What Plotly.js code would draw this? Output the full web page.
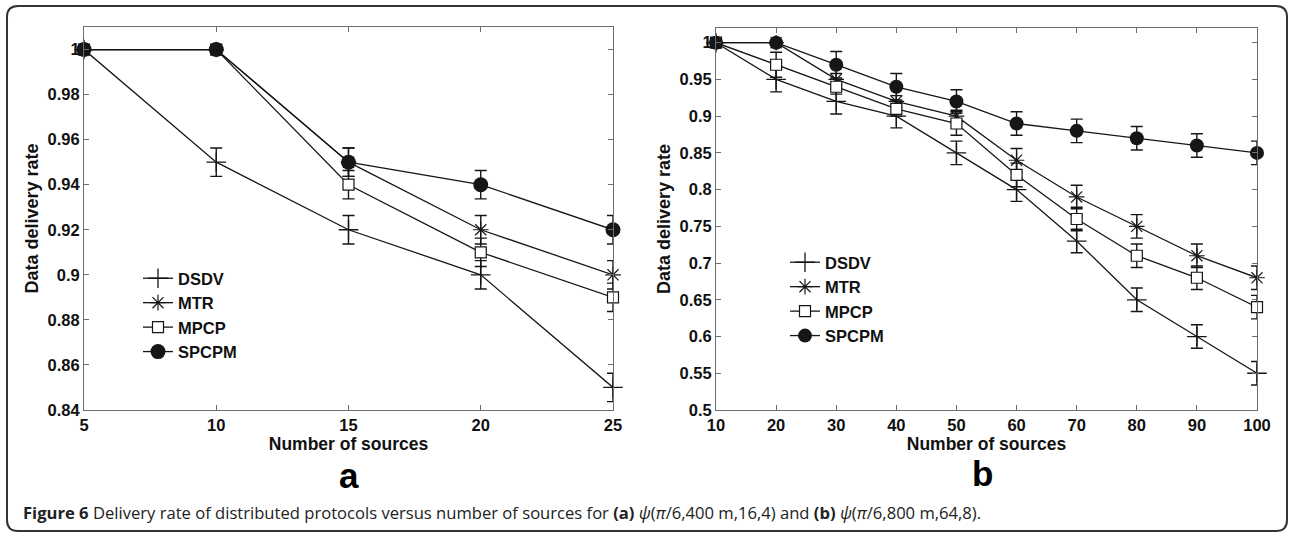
<!DOCTYPE html>
<html>
<head>
<meta charset="utf-8">
<script src="https://cdn.plot.ly/plotly-3.0.1.min.js"></script>
<style>
  html, body { margin: 0; padding: 0; background: #fff; }
  #chart { width: 1290px; height: 535px; }
</style>
</head>
<body>
<div id="chart"></div>
<script>
// ---------- Data: panel (a) ----------
const xA = [5, 10, 15, 20, 25];
const dsdvA = [1.00, 0.95, 0.92, 0.90, 0.85];
const mtrA = [1.00, 1.00, 0.95, 0.92, 0.90];
const mpcpA = [1.00, 1.00, 0.94, 0.91, 0.89];
const spcpmA = [1.00, 1.00, 0.95, 0.94, 0.92];
const errDsdvA = [0, 0.0063, 0.0063, 0.0063, 0.0063];
const errMtrA = [0, 0, 0.0063, 0.0063, 0.0063];
const errMpcpA = [0, 0, 0.0063, 0.0063, 0.0063];
const errSpcpmA = [0, 0, 0.0063, 0.0063, 0.0063];
const xTicksA = [5, 10, 15, 20, 25];
const yTicksA = [0.84, 0.86, 0.88, 0.90, 0.92, 0.94, 0.96, 0.98, 1.00];
const yTickTextA = ['0.84', '0.86', '0.88', '0.9', '0.92', '0.94', '0.96', '0.98', '1'];

// ---------- Data: panel (b) ----------
const xB = [10, 20, 30, 40, 50, 60, 70, 80, 90, 100];
const dsdvB = [1.00, 0.95, 0.92, 0.90, 0.85, 0.80, 0.73, 0.65, 0.60, 0.55];
const mtrB = [1.00, 1.00, 0.95, 0.92, 0.90, 0.84, 0.79, 0.75, 0.71, 0.68];
const mpcpB = [1.00, 0.97, 0.94, 0.91, 0.89, 0.82, 0.76, 0.71, 0.68, 0.64];
const spcpmB = [1.00, 1.00, 0.97, 0.94, 0.92, 0.89, 0.88, 0.87, 0.86, 0.85];
const errDsdvB = [0, 0.017, 0.017, 0.016, 0.016, 0.016, 0.016, 0.016, 0.016, 0.016];
const errMtrB = [0, 0, 0.008, 0.008, 0.008, 0.016, 0.016, 0.016, 0.016, 0.016];
const errMpcpB = [0, 0.017, 0.01, 0.01, 0.016, 0.016, 0.016, 0.016, 0.016, 0.016];
const errSpcpmB = [0, 0, 0.018, 0.018, 0.016, 0.016, 0.016, 0.016, 0.016, 0.016];
const xTicksB = [10, 20, 30, 40, 50, 60, 70, 80, 90, 100];
const yTicksB = [0.5, 0.55, 0.6, 0.65, 0.7, 0.75, 0.8, 0.85, 0.9, 0.95, 1.0];
const yTickTextB = ['0.5', '0.55', '0.6', '0.65', '0.7', '0.75', '0.8', '0.85', '0.9', '0.95', '1'];

const seriesNames = ['DSDV', 'MTR', 'MPCP', 'SPCPM'];

// ---------- Styles ----------
const W = 1290, H = 535;
const px = v => v / W;
const py = v => 1 - v / H;
const INK = '#161616';
const AXIS = '#6e6e6e';
const FONT = 'Arial, Liberation Sans, sans-serif';

function markerFor(name, big) {
  if (name === 'DSDV') return { symbol: 'cross-thin-open', size: 14, color: INK, line: { color: INK, width: 1.3 } };
  if (name === 'MTR') return { symbol: 'asterisk-open', size: 13, color: INK, line: { color: INK, width: 1.2 } };
  if (name === 'MPCP') return { symbol: 'square', size: 11, color: '#ffffff', line: { color: INK, width: 1.2 } };
  return { symbol: 'circle', size: big ? 15 : 14, color: INK, line: { color: INK, width: 0 } };
}

function mk(x, y, err, name, xa, ya, leg, big) {
  return {
    type: 'scatter', mode: 'lines+markers', x: x, y: y, name: name,
    xaxis: xa, yaxis: ya, legend: leg, cliponaxis: false,
    line: { color: INK, width: 1.3 },
    marker: markerFor(name, big),
    error_y: { type: 'data', array: err, visible: true, color: INK, thickness: 1.4, width: 6 }
  };
}

const traces = [
  mk(xA, dsdvA, errDsdvA, seriesNames[0], 'x', 'y', 'legend', true),
  mk(xA, mtrA, errMtrA, seriesNames[1], 'x', 'y', 'legend', true),
  mk(xA, mpcpA, errMpcpA, seriesNames[2], 'x', 'y', 'legend', true),
  mk(xA, spcpmA, errSpcpmA, seriesNames[3], 'x', 'y', 'legend', true),
  mk(xB, dsdvB, errDsdvB, seriesNames[0], 'x2', 'y2', 'legend2', false),
  mk(xB, mtrB, errMtrB, seriesNames[1], 'x2', 'y2', 'legend2', false),
  mk(xB, mpcpB, errMpcpB, seriesNames[2], 'x2', 'y2', 'legend2', false),
  mk(xB, spcpmB, errSpcpmB, seriesNames[3], 'x2', 'y2', 'legend2', false)
];

const tickFont = { family: FONT, size: 16.5, color: '#111', weight: 'bold' };
const xTitleFont = { family: FONT, size: 17.5, color: '#111', weight: 'bold' };
const yTitleFont = { family: FONT, size: 18, color: '#111', weight: 'bold' };

function xAxis(domain, range, ticks, anchor) {
  return {
    domain: domain, range: range, anchor: anchor,
    tickvals: ticks, ticks: 'inside', ticklen: 5, tickwidth: 1, tickcolor: AXIS,
    showline: true, linecolor: AXIS, linewidth: 1, mirror: 'allticks',
    showgrid: false, zeroline: false, tickfont: tickFont,
    title: { text: 'Number of sources', font: xTitleFont, standoff: 0 }
  };
}
function yAxis(domain, range, ticks, text, anchor) {
  return {
    domain: domain, range: range, anchor: anchor,
    tickvals: ticks, ticktext: text, ticks: 'inside', ticklen: 5, tickwidth: 1, tickcolor: AXIS,
    showline: true, linecolor: AXIS, linewidth: 1, mirror: 'allticks',
    showgrid: false, zeroline: false, tickfont: tickFont,
    title: { text: 'Data delivery rate', font: yTitleFont, standoff: 4 }
  };
}

// rounded frame
const fx0 = 7, fx1 = 1287, fy0 = 6, fy1 = 531, r = 11;
const framePath =
  `M ${px(fx0 + r)},${py(fy0)} L ${px(fx1 - r)},${py(fy0)} Q ${px(fx1)},${py(fy0)} ${px(fx1)},${py(fy0 + r)} ` +
  `L ${px(fx1)},${py(fy1 - r)} Q ${px(fx1)},${py(fy1)} ${px(fx1 - r)},${py(fy1)} ` +
  `L ${px(fx0 + r)},${py(fy1)} Q ${px(fx0)},${py(fy1)} ${px(fx0)},${py(fy1 - r)} ` +
  `L ${px(fx0)},${py(fy0 + r)} Q ${px(fx0)},${py(fy0)} ${px(fx0 + r)},${py(fy0)} Z`;

const legendFont = { family: FONT, size: 16.5, color: '#111', weight: 'bold' };

const layout = {
  width: W, height: H,
  margin: { l: 0, r: 0, t: 0, b: 0 },
  paper_bgcolor: '#ffffff', plot_bgcolor: '#ffffff',
  showlegend: true,
  xaxis: xAxis([px(84), px(613)], [5, 25], xTicksA, 'y'),
  yaxis: yAxis([py(410), py(27)], [0.84, 1.01], yTicksA, yTickTextA, 'x'),
  xaxis2: xAxis([px(716), px(1257)], [10, 100], xTicksB, 'y2'),
  yaxis2: yAxis([py(410), py(28)], [0.5, 1.02], yTicksB, yTickTextB, 'x2'),
  legend: { x: px(138), y: py(261), xanchor: 'left', yanchor: 'top', font: legendFont,
            bgcolor: 'rgba(0,0,0,0)', borderwidth: 0, tracegroupgap: 0 },
  legend2: { x: px(785), y: py(245), xanchor: 'left', yanchor: 'top', font: legendFont,
             bgcolor: 'rgba(0,0,0,0)', borderwidth: 0, tracegroupgap: 0 },
  shapes: [{ type: 'path', xref: 'paper', yref: 'paper', path: framePath,
             line: { color: '#333333', width: 2 }, fillcolor: 'rgba(0,0,0,0)' }],
  annotations: [
    { xref: 'paper', yref: 'paper', x: px(348.5), y: py(475), xanchor: 'center', yanchor: 'middle',
      text: 'a', showarrow: false, font: { family: FONT, size: 35, color: '#000', weight: 'bold' } },
    { xref: 'paper', yref: 'paper', x: px(982), y: py(473), xanchor: 'center', yanchor: 'middle',
      text: 'b', showarrow: false, font: { family: FONT, size: 35, color: '#000', weight: 'bold' } },
    { xref: 'paper', yref: 'paper', x: px(21), y: py(512), xanchor: 'left', yanchor: 'middle',
      showarrow: false, align: 'left',
      font: { family: 'Open Sans, sans-serif', size: 16.6, color: '#222' },
      text: '<b>Figure 6</b> Delivery rate of distributed protocols versus number of sources for <b>(a)</b> <i>ψ</i>(<i>π</i>/6,400 m,16,4) and <b>(b)</b> <i>ψ</i>(<i>π</i>/6,800 m,64,8).' }
  ]
};

Plotly.newPlot('chart', traces, layout, { staticPlot: true, displayModeBar: false });
</script>
</body>
</html>
